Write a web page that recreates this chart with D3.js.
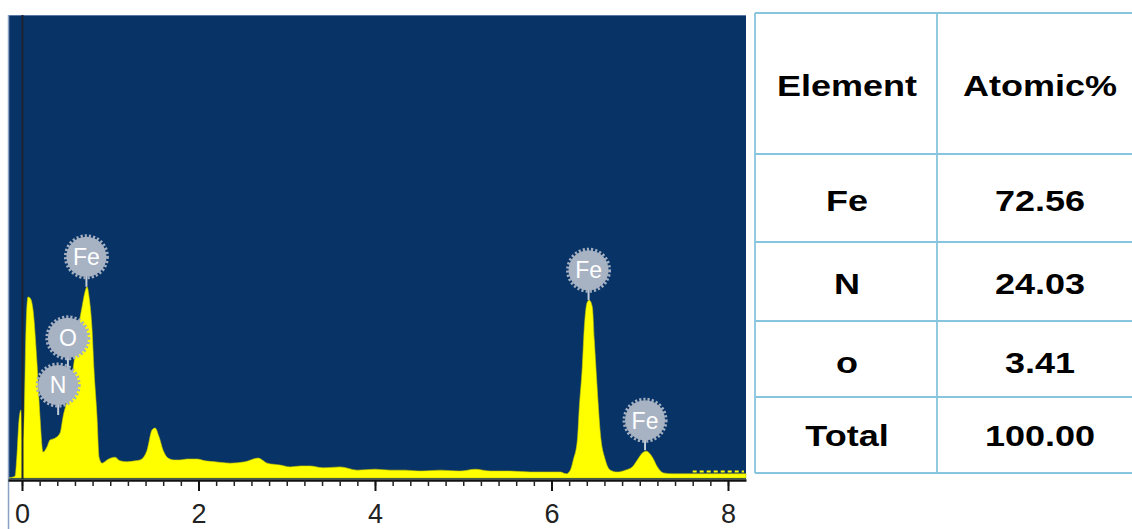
<!DOCTYPE html>
<html>
<head>
<meta charset="utf-8">
<script src="https://cdn.jsdelivr.net/npm/d3@7"></script>
<style>
  body { margin: 0; background: #fff; }
  svg { display: block; }
</style>
</head>
<body>
<div id="chart"></div>
<script>
// spectrum: energy (keV) and counts (arbitrary units)
const energy = [-0.159, -0.079, -0.057, -0.034, -0.011, 0.006, 0.023, 0.045, 0.068, 0.091,
  0.125, 0.170, 0.204, 0.238, 0.283, 0.317, 0.374, 0.431, 0.465, 0.522,
  0.578, 0.635, 0.680, 0.714, 0.737, 0.760, 0.794, 0.816, 0.850, 0.873,
  0.907, 0.964, 1.009, 1.054, 1.111, 1.190, 1.281, 1.338, 1.417, 1.474,
  1.508, 1.553, 1.599, 1.655, 1.723, 1.791, 1.871, 1.984, 2.075, 2.188,
  2.358, 2.528, 2.676, 2.778, 2.925, 3.039, 3.152, 3.265, 3.413, 3.605,
  3.798, 4.002, 4.172, 4.342, 4.512, 4.739, 4.966, 5.136, 5.306, 5.533,
  5.760, 5.986, 6.100, 6.168, 6.213, 6.247, 6.293, 6.315, 6.349, 6.372,
  6.406, 6.429, 6.463, 6.485, 6.519, 6.553, 6.610, 6.667, 6.746, 6.837,
  6.916, 6.973, 7.029, 7.075, 7.143, 7.200, 7.268, 7.381, 7.574, 7.800,
  8.027, 8.204];
const counts = [0, 4, 50, 125, 147, 82, 125, 320, 391, 389,
  363, 248, 132, 56, 67, 82, 86, 97, 132, 175,
  233, 320, 369, 402, 413, 391, 320, 233, 132, 45,
  32, 39, 43, 45, 37, 35, 37, 39, 60, 104,
  108, 89, 60, 43, 39, 39, 41, 41, 37, 35,
  32, 35, 43, 32, 28, 24, 26, 26, 22, 24,
  17, 19, 17, 17, 15, 17, 15, 19, 15, 15,
  13, 13, 13, 9, 17, 39, 82, 153, 240, 326,
  380, 384, 369, 298, 190, 97, 39, 17, 13, 17,
  24, 39, 54, 58, 45, 24, 11, 9, 9, 9,
  9, 9];

// peak labels: element, energy (keV), counts at the tip of the stick
const peakNames = ["Fe", "O", "N", "Fe", "Fe"];
const peakEnergy = [0.73, 0.52, 0.41, 6.42, 7.06];
const peakTip = [413, 238, 136, 384, 60];

const majorTicks = [0, 2, 4, 6, 8];
const minorTicks = d3.range(0, 41).map(i => i * 0.2);

// quantification table
const tableHead = ["Element", "Atomic%"];
const elements = ["Fe", "N", "o", "Total"];
const atomic = ["72.56", "24.03", "3.41", "100.00"];

const width = 1132, height = 529;
const plotLeft = 8, plotRight = 746, plotTop = 15, plotBottom = 479;

const svg = d3.select("#chart").append("svg")
  .attr("width", width).attr("height", height);

const x = d3.scaleLinear().domain([-0.1586, 8.204]).range([plotLeft, plotRight]);
const y = d3.scaleLinear().domain([0, 1000]).range([478, plotTop]);

svg.append("rect")
  .attr("x", plotLeft).attr("y", plotTop)
  .attr("width", plotRight - plotLeft).attr("height", plotBottom - plotTop)
  .attr("fill", "#083366");

svg.append("line")
  .attr("x1", plotLeft).attr("x2", plotRight).attr("y1", plotTop + 0.5).attr("y2", plotTop + 0.5)
  .attr("stroke", "#5a78a6").attr("stroke-width", 1);

const spectrum = d3.zip(energy, counts);

const area = d3.area()
  .x(d => x(d[0]))
  .y0(y(0))
  .y1(d => y(d[1]))
  .curve(d3.curveMonotoneX);

svg.append("path")
  .datum(spectrum)
  .attr("d", area)
  .attr("fill", "#ffff00")
  .attr("stroke", "#c8c800")
  .attr("stroke-width", 0.6);

// dotted tail of the trace past the last peak
svg.append("line")
  .attr("x1", x(7.6)).attr("x2", plotRight - 2)
  .attr("y1", y(14)).attr("y2", y(14))
  .attr("stroke", "#ffff00").attr("stroke-width", 2)
  .attr("stroke-dasharray", "4,3");

// zero energy marker
svg.append("line")
  .attr("x1", x(0) + 0.5).attr("x2", x(0) + 0.5)
  .attr("y1", plotTop).attr("y2", plotBottom)
  .attr("stroke", "#1b2230").attr("stroke-width", 2);

// left frame line running down past the axis
svg.append("line")
  .attr("x1", plotLeft + 0.5).attr("x2", plotLeft + 0.5)
  .attr("y1", plotTop).attr("y2", height)
  .attr("stroke", "#8aa0c4").attr("stroke-width", 1.5);

// peak labels
const lift = 30, r = 20;
const labels = svg.append("g").selectAll("g")
  .data(peakNames.map((n, i) => ({ n, e: peakEnergy[i], c: peakTip[i] })))
  .join("g")
  .attr("transform", d => `translate(${x(d.e)},${y(d.c)})`);

labels.append("line")
  .attr("x1", 0).attr("x2", 0)
  .attr("y1", 0).attr("y2", -lift)
  .attr("stroke", "#c3ccd8").attr("stroke-width", 2);

labels.append("circle")
  .attr("cy", -lift).attr("r", r + 1)
  .attr("fill", "none")
  .attr("stroke", "#a4afc0").attr("stroke-width", 3)
  .attr("stroke-dasharray", "2.2,2");

labels.append("circle")
  .attr("cy", -lift).attr("r", r)
  .attr("fill", "#a7b2c3");

labels.append("text")
  .attr("y", -lift)
  .attr("dy", "0.36em")
  .attr("text-anchor", "middle")
  .attr("font-family", "Liberation Sans, Arial, sans-serif")
  .attr("font-size", 23)
  .attr("fill", "#ffffff")
  .text(d => d.n);

// axis
const minorAxis = svg.append("g")
  .attr("transform", `translate(0,${plotBottom + 1})`)
  .call(d3.axisBottom(x).tickValues(minorTicks).tickSize(6).tickSizeOuter(0).tickFormat(""));
minorAxis.select(".domain").attr("stroke-width", 2.5).attr("stroke", "#111");
minorAxis.selectAll(".tick line").attr("stroke", "#222").attr("stroke-width", 1.5);

const majorAxis = svg.append("g")
  .attr("transform", `translate(0,${plotBottom + 1})`)
  .call(d3.axisBottom(x).tickValues(majorTicks).tickSize(11).tickSizeOuter(0));
majorAxis.select(".domain").remove();
majorAxis.attr("font-size", null).attr("font-family", null);
majorAxis.selectAll(".tick line").attr("stroke", "#111").attr("stroke-width", 2);
majorAxis.selectAll("text")
  .attr("y", 43)
  .attr("dy", null)
  .style("font-family", "'Liberation Sans Narrow', 'Liberation Sans', Arial, sans-serif")
  .style("font-size", "27px")
  .attr("fill", "#222");

// table
const tx0 = 755, tx1 = 937, tx2 = 1140;
const rowLines = [13, 154, 242, 321, 397, 473];
const lineColor = "#86c5dd";
const tbl = svg.append("g");

tbl.selectAll("line.h")
  .data(rowLines)
  .join("line")
  .attr("class", "h")
  .attr("x1", tx0).attr("x2", tx2)
  .attr("y1", d => d).attr("y2", d => d)
  .attr("stroke", lineColor).attr("stroke-width", 1.8);

tbl.selectAll("line.v")
  .data([tx0, tx1])
  .join("line")
  .attr("class", "v")
  .attr("x1", d => d).attr("x2", d => d)
  .attr("y1", rowLines[0]).attr("y2", rowLines[rowLines.length - 1])
  .attr("stroke", lineColor).attr("stroke-width", 1.8);

const colCenter = [847, 1040];
const rowCenter = [85, 200, 283, 362, 435];
const cells = [tableHead].concat(elements.map((e, i) => [e, atomic[i]]));

cells.forEach((row, ri) => {
  row.forEach((txt, ci) => {
    tbl.append("text")
      .attr("transform", `translate(${colCenter[ci]},${rowCenter[ri]}) scale(1.2,1)`)
      .attr("dy", "0.36em")
      .attr("text-anchor", "middle")
      .attr("font-family", "Liberation Sans, Arial, sans-serif")
      .attr("font-weight", "bold")
      .attr("font-size", 30)
      .attr("fill", "#000")
      .text(txt);
  });
});
</script>
</body>
</html>
